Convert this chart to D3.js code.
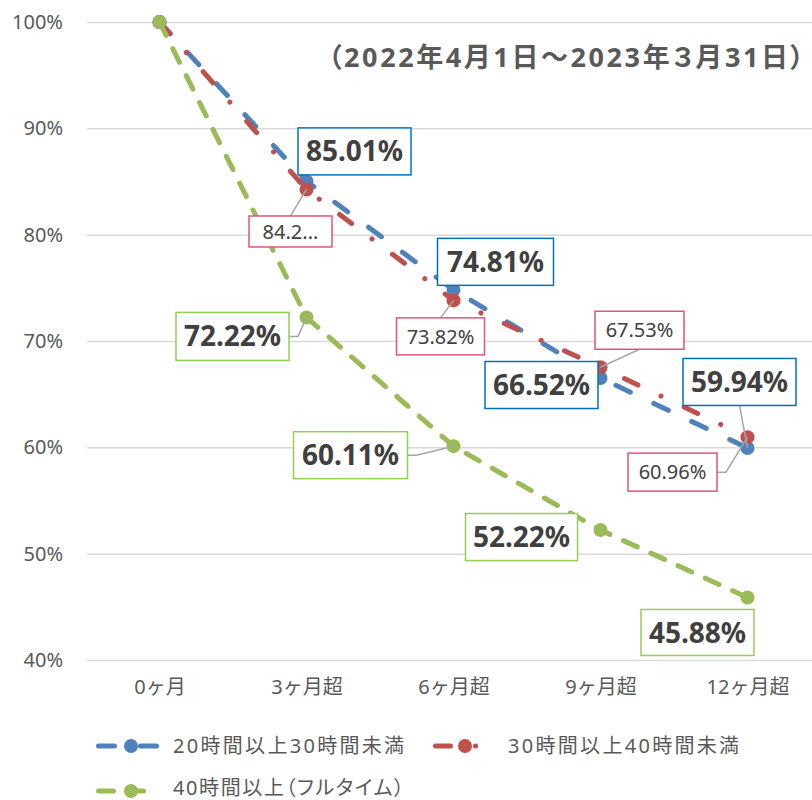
<!DOCTYPE html>
<html>
<head>
<meta charset="utf-8">
<script src="https://cdn.jsdelivr.net/npm/d3@7"></script>
<style>
  body { margin: 0; background: #fff; }
  svg { display: block; font-family: "Noto Sans", "Noto Sans CJK JP", sans-serif; }
  .palt { font-feature-settings: "palt"; }
</style>
</head>
<body>
<div id="chart"></div>
<script>
// data
const categories = ['0ヶ月', '3ヶ月超', '6ヶ月超', '9ヶ月超', '12ヶ月超']
const seriesNames = ['20時間以上30時間未満', '30時間以上40時間未満', '40時間以上（フルタイム）']
const blueValues = [100, 85.01, 74.81, 66.52, 59.94]
const redValues = [100, 84.25, 73.82, 67.53, 60.96]
const greenValues = [100, 72.22, 60.11, 52.22, 45.88]
const yTicks = [40, 50, 60, 70, 80, 90, 100]
const titleText = '（2022年4月1日～2023年３月31日）'

// chart size
const width = 812
const height = 800
const plot = { left: 87, right: 812, top: 22, bottom: 660 }

// series styles
const styles = [
  { color: '#4f81bd', dash: '16 26', box: '#0070c0', bold: true },
  { color: '#c0504d', dash: '15 25.5 0.1 25.5', box: '#e0557a', bold: false },
  { color: '#9bbb59', dash: '15 15', box: '#92d050', bold: true }
]

// label placement (offset of box centre from the point, box size, leader side)
const labelLayout = [
  [null,
    { dx: 48, dy: -30, w: 113, h: 47, leader: 'none' },
    { dx: 42, dy: -28, w: 116, h: 47, leader: 'none' },
    { dx: -59, dy: 7, w: 113, h: 47, leader: 'none' },
    { dx: -8, dy: -66, w: 113, h: 47, leader: 'bottom' }],
  [null,
    { dx: -16, dy: 42, w: 83, h: 31, leader: 'top', trunc: true },
    { dx: -13, dy: 36, w: 88, h: 37, leader: 'top' },
    { dx: 39, dy: -37, w: 89, h: 38, leader: 'bottom' },
    { dx: -75, dy: 35, w: 89, h: 38, leader: 'right' }],
  [null,
    { dx: -74, dy: 19, w: 113, h: 48, leader: 'right' },
    { dx: -103, dy: 9, w: 114, h: 47, leader: 'right' },
    { dx: -79, dy: 7, w: 112, h: 47, leader: 'none' },
    { dx: -50, dy: 35, w: 113, h: 46, leader: 'none' }]
]

const allValues = [blueValues, redValues, greenValues]

const x = d3.scalePoint()
  .domain(categories)
  .range([plot.left - 1, plot.left + 734])
  .padding(0.5)

const y = d3.scaleLinear()
  .domain([40, 100])
  .range([plot.bottom, plot.top])

const svg = d3.select('#chart')
  .append('svg')
  .attr('width', width)
  .attr('height', height)

// y axis + gridlines
const yAxis = d3.axisLeft(y)
  .tickValues(yTicks)
  .tickSize(-(plot.right - plot.left))
  .tickPadding(24)
  .tickFormat(d => d + '%')

const gy = svg.append('g')
  .attr('transform', `translate(${plot.left},0)`)
  .call(yAxis)
gy.select('.domain').remove()
gy.selectAll('line').attr('stroke', '#d9d9d9').attr('stroke-width', 1.5)
gy.selectAll('text')
  .attr('fill', '#595959')
  .attr('font-size', 20)
  .attr('font-family', '"Noto Sans", sans-serif')

// x axis
const xAxis = d3.axisBottom(x).tickSize(0).tickPadding(20)
const gx = svg.append('g')
  .attr('transform', `translate(0,${plot.bottom})`)
  .call(xAxis)
gx.select('.domain').remove()
gx.selectAll('text')
  .attr('fill', '#595959')
  .attr('font-size', 20)
  .attr('font-family', '"Noto Sans", "Noto Sans CJK JP", sans-serif')

// title (proportional punctuation so the brackets sit tight)
svg.append('text')
  .attr('class', 'palt')
  .attr('x', 328)
  .attr('y', 67)
  .attr('font-size', 27)
  .attr('font-weight', 'bold')
  .attr('fill', '#595959')
  .attr('textLength', 476)
  .attr('lengthAdjust', 'spacing')
  .text(titleText)

// lines + markers
const line = d3.line()
  .x((d, i) => x(categories[i]))
  .y(d => y(d))

allValues.forEach((vals, s) => {
  const g = svg.append('g').attr('class', 'series')
  g.append('path')
    .datum(vals)
    .attr('d', line)
    .attr('fill', 'none')
    .attr('stroke', styles[s].color)
    .attr('stroke-width', 5)
    .attr('stroke-linecap', 'round')
    .attr('stroke-dasharray', styles[s].dash)
  g.selectAll('circle')
    .data(vals)
    .enter()
    .append('circle')
    .attr('cx', (d, i) => x(categories[i]))
    .attr('cy', d => y(d))
    .attr('r', 7)
    .attr('fill', styles[s].color)
})

// data labels
allValues.forEach((vals, s) => {
  const g = svg.append('g').attr('class', 'labels')
  vals.forEach((v, i) => {
    const lay = labelLayout[s][i]
    if (!lay) return
    const px = x(categories[i])
    const py = y(v)
    const cx = px + lay.dx
    const cy = py + lay.dy
    const x0 = cx - lay.w / 2
    const y0 = cy - lay.h / 2

    // leader line
    let pts = null
    if (lay.leader === 'top') pts = [[cx, y0], [px, py]]
    if (lay.leader === 'bottom') pts = [[cx, y0 + lay.h], [px, py]]
    if (lay.leader === 'right') pts = [[x0 + lay.w, cy], [x0 + lay.w + 9, cy], [px, py]]
    if (pts) {
      g.append('path')
        .attr('d', d3.line()(pts))
        .attr('fill', 'none')
        .attr('stroke', '#a6a6a6')
        .attr('stroke-width', 1.5)
    }

    g.append('rect')
      .attr('x', x0)
      .attr('y', y0)
      .attr('width', lay.w)
      .attr('height', lay.h)
      .attr('fill', '#fff')
      .attr('stroke', styles[s].box)
      .attr('stroke-width', 1.5)

    let txt = v.toFixed(2) + '%'
    if (lay.trunc) txt = txt.slice(0, 4) + '...'
    g.append('text')
      .attr('x', cx)
      .attr('y', cy)
      .attr('dy', '0.36em')
      .attr('text-anchor', 'middle')
      .attr('fill', '#404040')
      .attr('font-size', styles[s].bold ? 28 : 20)
      .attr('font-weight', styles[s].bold ? 'bold' : 'normal')
      .text(txt)
  })
})

// legend
const legendItems = [
  { s: 0, x: 96, y: 746, ls: 2.3 },
  { s: 1, x: 433, y: 746, ls: 2.3 },
  { s: 2, x: 96, y: 791, ls: 1.6 }
]
const legend = svg.append('g').attr('id', 'legend')
legendItems.forEach(d => {
  const st = styles[d.s]
  const len = d.s === 1 ? 66 : 65
  legend.append('line')
    .attr('x1', d.x + 2.5)
    .attr('x2', d.x + len - 2.5)
    .attr('y1', d.y)
    .attr('y2', d.y)
    .attr('stroke', st.color)
    .attr('stroke-width', 5)
    .attr('stroke-linecap', 'round')
    .attr('stroke-dasharray', d.s === 1 ? '15 25 0.1 25' : st.dash)
  legend.append('circle')
    .attr('cx', d.x + (d.s === 1 ? 32 : 35))
    .attr('cy', d.y)
    .attr('r', 7)
    .attr('fill', st.color)
  legend.append('text')
    .attr('class', d.s === 2 ? 'palt' : null)
    .attr('x', d.x + (d.s === 1 ? 75 : 77))
    .attr('y', d.y - (d.s === 2 ? 3 : 0))
    .attr('dy', '0.36em')
    .attr('fill', '#595959')
    .attr('font-size', 20)
    .attr('letter-spacing', d.ls)
    .text(seriesNames[d.s])
})
</script>
</body>
</html>
